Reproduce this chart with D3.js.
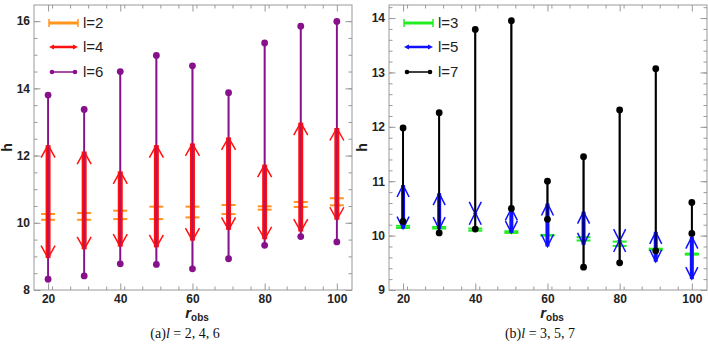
<!DOCTYPE html>
<html>
<head>
<meta charset="utf-8">
<script src="https://cdn.jsdelivr.net/npm/d3@7"></script>
<style>
  body { margin: 0; background: #fff; }
  svg { display: block; }
</style>
</head>
<body>
<script>
var robs = [20, 30, 40, 50, 60, 70, 80, 90, 100];

// panel (a): l = 2, 4, 6
var l2Lo = [10.09, 10.09, 10.11, 10.11, 10.16, 10.26, 10.39, 10.47, 10.52];
var l2Hi = [10.26, 10.29, 10.36, 10.48, 10.48, 10.53, 10.49, 10.62, 10.73];
var l4Lo = [8.95, 9.21, 9.29, 9.27, 9.47, 9.79, 9.51, 9.74, 10.09];
var l4Hi = [12.31, 12.12, 11.53, 12.31, 12.36, 12.54, 11.73, 12.98, 12.82];
var l6Lo = [8.32, 8.42, 8.78, 8.76, 8.63, 8.93, 9.33, 9.59, 9.43];
var l6Hi = [13.8, 13.37, 14.5, 14.98, 14.67, 13.87, 15.35, 15.85, 15.99];

// panel (b): l = 3, 5, 7
var l3Lo = [10.14, 10.13, 10.09, 10.05, 10.0, 9.91, 9.81, 9.74, 9.65];
var l3Hi = [10.18, 10.16, 10.13, 10.08, 10.01, 9.97, 9.89, 9.76, 9.67];
var l5Lo = [10.13, 10.12, 10.40, 10.05, 9.80, 9.83, 9.90, 9.52, 9.20];
var l5Hi = [10.93, 10.78, 10.42, 10.50, 10.59, 10.44, 9.92, 10.07, 9.98];
var l7Lo = [10.26, 10.05, 10.12, 10.5, 10.3, 9.42, 9.5, 9.72, 10.04];
var l7Hi = [11.98, 12.26, 13.79, 13.95, 11.0, 11.45, 12.31, 13.07, 10.61];

var yTicksA = [8, 10, 12, 14, 16];
var yTicksB = [9, 10, 11, 12, 13, 14];
var xTicks = [20, 40, 60, 80, 100];

var width = 708, height = 347;
var svg = d3.select("body").append("svg")
  .attr("width", width).attr("height", height);

var frameColor = "#999";
var tickFont = "'Liberation Sans', Arial, sans-serif";

function makePanel(p) {
  var x = d3.scaleLinear().domain(p.xDomain).range([p.left, p.right]);
  var y = d3.scaleLinear().domain(p.yDomain).range([p.bottom, p.top]);
  var g = svg.append("g");

  // minor + major ticks, pointing inward on all four sides
  var xMinor = d3.range(p.xDomain[0], p.xDomain[1], 5).filter(function (v) { return v >= 20 && v <= 100; });
  var yMinor = d3.range(0, 60).map(function (i) { return p.yDomain[0] + i * p.yMinorStep; })
    .filter(function (v) { return v <= p.yDomain[1]; });

  function addAxis(axisFn, scale, vals, size, tx, ty, labels) {
    var a = axisFn(scale).tickValues(vals).tickSize(-size).tickSizeOuter(0).tickPadding(4)
      .tickFormat(labels ? d3.format("d") : "");
    var ga = g.append("g").attr("transform", "translate(" + tx + "," + ty + ")").call(a);
    ga.select(".domain").remove();
    ga.selectAll("line").attr("stroke", frameColor);
    ga.selectAll("text")
      .style("font-family", tickFont)
      .style("font-size", "12px")
      .style("font-weight", "bold")
      .attr("fill", "#222");
    return ga;
  }
  addAxis(d3.axisBottom, x, xMinor, 3.5, 0, p.bottom, false);
  addAxis(d3.axisTop, x, xMinor, 3.5, 0, p.top, false);
  addAxis(d3.axisLeft, y, yMinor, 3.5, p.left, 0, false);
  addAxis(d3.axisRight, y, yMinor, 3.5, p.right, 0, false);
  addAxis(d3.axisBottom, x, xTicks, 6.5, 0, p.bottom, true);
  addAxis(d3.axisTop, x, xTicks, 6.5, 0, p.top, false);
  addAxis(d3.axisLeft, y, p.yTicks, 6.5, p.left, 0, true);
  addAxis(d3.axisRight, y, p.yTicks, 6.5, p.right, 0, false);

  g.append("rect")
    .attr("x", p.left).attr("y", p.top)
    .attr("width", p.right - p.left).attr("height", p.bottom - p.top)
    .attr("fill", "none").attr("stroke", frameColor).attr("stroke-width", 1);

  // error bars (smallest l)
  var eb = g.append("g").attr("stroke", p.barColor).attr("stroke-width", 2).attr("fill", "none");
  robs.forEach(function (r, i) {
    var cx = x(r);
    eb.append("line").attr("x1", cx).attr("x2", cx).attr("y1", y(p.barLo[i])).attr("y2", y(p.barHi[i]));
    [p.barLo[i], p.barHi[i]].forEach(function (v) {
      eb.append("line").attr("x1", cx - 7).attr("x2", cx + 7).attr("y1", y(v)).attr("y2", y(v));
    });
  });

  // solid range lines under the arrows (largest l)
  var rgUnder = g.append("g");
  robs.forEach(function (r, i) {
    rgUnder.append("line").attr("x1", x(r)).attr("x2", x(r))
      .attr("y1", y(p.rangeLo[i])).attr("y2", y(p.rangeHi[i]))
      .attr("stroke", p.rangeColor).attr("stroke-width", 1.8);
  });

  // double headed arrows (middle l)
  var ar = g.append("g").attr("stroke", p.arrowColor).attr("fill", "none");
  robs.forEach(function (r, i) {
    var cx = x(r), pt = y(p.arrHi[i]), pb = y(p.arrLo[i]);
    ar.append("line").attr("x1", cx).attr("x2", cx).attr("y1", pt).attr("y2", pb)
      .attr("stroke-width", p.shaftW);
    ar.append("path").attr("stroke-width", 1.5)
      .attr("d", "M" + (cx - p.armDx) + "," + (pt + p.armDy) + "L" + cx + "," + pt + "L" + (cx + p.armDx) + "," + (pt + p.armDy));
    ar.append("path").attr("stroke-width", 1.5)
      .attr("d", "M" + (cx - p.armDx) + "," + (pb - p.armDy) + "L" + cx + "," + pb + "L" + (cx + p.armDx) + "," + (pb - p.armDy));
  });

  // range lines again, see-through, plus end dots
  var rg = g.append("g");
  robs.forEach(function (r, i) {
    var cx = x(r);
    rg.append("line").attr("x1", cx).attr("x2", cx)
      .attr("y1", y(p.rangeLo[i])).attr("y2", y(p.rangeHi[i]))
      .attr("stroke", p.rangeColor).attr("stroke-width", 1.8).attr("stroke-opacity", p.rangeOpacity);
    [p.rangeLo[i], p.rangeHi[i]].forEach(function (v) {
      rg.append("circle").attr("cx", cx).attr("cy", y(v)).attr("r", 3.4).attr("fill", p.rangeColor);
    });
  });

  // legend
  var lg = g.append("g");
  var lx0 = p.left + 15, lx1 = p.left + 44;
  var rows = [18 + p.top, 42 + p.top, 67 + p.top];
  lg.append("line").attr("x1", lx0).attr("x2", lx1).attr("y1", rows[0]).attr("y2", rows[0])
    .attr("stroke", p.barColor).attr("stroke-width", 3);
  [lx0, lx1].forEach(function (v) {
    lg.append("line").attr("x1", v).attr("x2", v).attr("y1", rows[0] - 4).attr("y2", rows[0] + 4)
      .attr("stroke", p.barColor).attr("stroke-width", 1.5);
  });
  lg.append("line").attr("x1", lx0 + 3).attr("x2", lx1 - 3).attr("y1", rows[1]).attr("y2", rows[1])
    .attr("stroke", p.arrowColor).attr("stroke-width", 2.5);
  lg.append("path").attr("fill", p.arrowColor)
    .attr("d", "M" + lx0 + "," + rows[1] + "l5,-2.5v5z");
  lg.append("path").attr("fill", p.arrowColor)
    .attr("d", "M" + lx1 + "," + rows[1] + "l-5,-2.5v5z");
  lg.append("line").attr("x1", lx0 + 3).attr("x2", lx1 - 3).attr("y1", rows[2]).attr("y2", rows[2])
    .attr("stroke", p.rangeColor).attr("stroke-width", 1.5);
  [lx0 + 3, lx1 - 3].forEach(function (v) {
    lg.append("circle").attr("cx", v).attr("cy", rows[2]).attr("r", 2.3).attr("fill", p.rangeColor);
  });
  p.legendText.forEach(function (t, i) {
    lg.append("text").attr("x", lx1 + 5).attr("y", rows[i] + 5)
      .style("font-family", tickFont).style("font-size", "15px").attr("fill", "#222")
      .text(t);
  });

  // axis titles
  var cxMid = (p.left + p.right) / 2 + 4;
  g.append("text")
    .attr("transform", "translate(" + (p.left - 22) + "," + ((p.top + p.bottom) / 2) + ") rotate(-90)")
    .attr("text-anchor", "middle")
    .style("font-family", tickFont).style("font-size", "14px").style("font-weight", "bold")
    .attr("fill", "#222").text("h");
  var xt = g.append("text").attr("x", cxMid).attr("y", 318).attr("text-anchor", "middle")
    .style("font-family", tickFont).style("font-weight", "bold").attr("fill", "#222");
  xt.append("tspan").style("font-size", "15px").style("font-style", "italic").text("r");
  xt.append("tspan").attr("dy", 3).style("font-size", "10px").text("obs");

  // caption
  var cap = g.append("text").attr("x", cxMid - 12).attr("y", 338).attr("text-anchor", "middle")
    .style("font-family", "'Liberation Serif', 'Times New Roman', serif").style("font-size", "14px")
    .attr("fill", "#111");
  cap.append("tspan").text(p.captionHead);
  cap.append("tspan").style("font-style", "italic").text("l");
  cap.append("tspan").text(" = " + p.captionVals);
}

makePanel({
  left: 34, right: 352, top: 5, bottom: 290,
  xDomain: [16.1, 104.2], yDomain: [8, 16.48], yTicks: yTicksA, yMinorStep: 0.5,
  barLo: l2Lo, barHi: l2Hi, barColor: "#ff9521",
  arrLo: l4Lo, arrHi: l4Hi, arrowColor: "#ff1010", shaftW: 5, armDx: 7, armDy: 12.5,
  rangeLo: l6Lo, rangeHi: l6Hi, rangeColor: "#86118a", rangeOpacity: 0.5,
  legendText: ["l=2", "l=4", "l=6"],
  captionHead: "(a)", captionVals: "2, 4, 6"
});

makePanel({
  left: 389, right: 707, top: 5, bottom: 290,
  xDomain: [16.1, 104.2], yDomain: [9, 14.24], yTicks: yTicksB, yMinorStep: 0.2,
  barLo: l3Lo, barHi: l3Hi, barColor: "#22ee22",
  arrLo: l5Lo, arrHi: l5Hi, arrowColor: "#1010ff", shaftW: 4, armDx: 6, armDy: 12,
  rangeLo: l7Lo, rangeHi: l7Hi, rangeColor: "#000", rangeOpacity: 1,
  legendText: ["l=3", "l=5", "l=7"],
  captionHead: "(b)", captionVals: "3, 5, 7"
});
</script>
</body>
</html>
